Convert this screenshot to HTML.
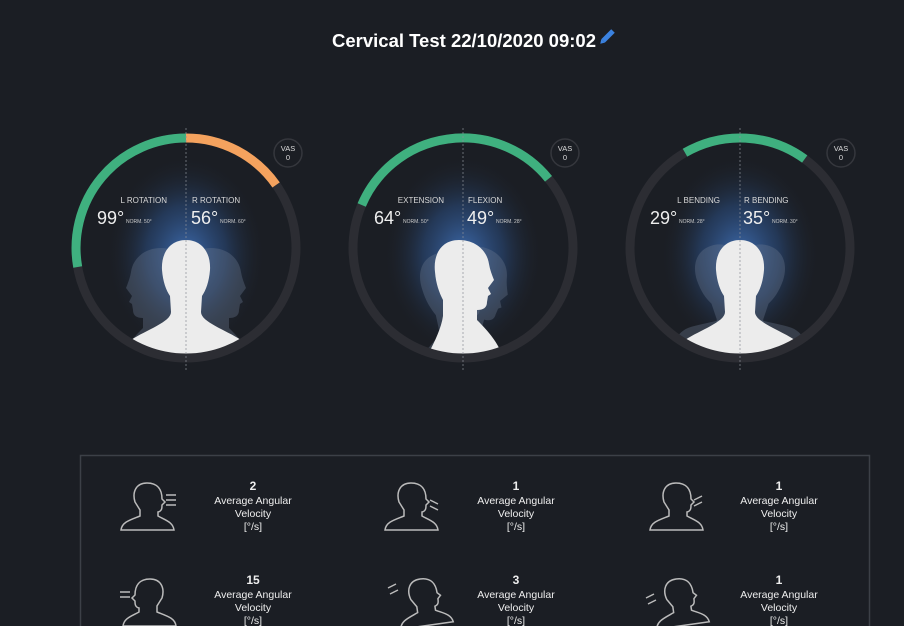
<!DOCTYPE html>
<html><head><meta charset="utf-8"><style>
html,body{margin:0;padding:0;background:#1b1e24;width:904px;height:626px;overflow:hidden;font-family:"Liberation Sans",sans-serif;}
svg text{font-family:"Liberation Sans",sans-serif;}
</style></head><body>
<svg width="904" height="626" viewBox="0 0 904 626" xmlns="http://www.w3.org/2000/svg">
<defs>
<radialGradient id="glow" cx="0.5" cy="0.5" r="0.5">
<stop offset="0" stop-color="#3f6fb5" stop-opacity="0.95"/>
<stop offset="0.5" stop-color="#2a4a7a" stop-opacity="0.6"/>
<stop offset="1" stop-color="#1b1e24" stop-opacity="0"/>
</radialGradient>
<clipPath id="c1"><circle cx="186" cy="248" r="106"/></clipPath>
<clipPath id="c2"><circle cx="463" cy="248" r="106"/></clipPath>
<clipPath id="c3"><circle cx="740" cy="248" r="106"/></clipPath>
<g id="front">
<path d="M0,-10 C-16,-10 -25,3 -24,20 C-23,32 -20,40 -16,46 L-15,62 C-15,72 -40,80 -55,90 C-62,95 -64,102 -66,110 L66,110 C64,102 62,95 55,90 C40,80 15,72 15,62 L16,46 C20,40 23,32 24,20 C25,3 16,-10 0,-10Z"/>
</g>
<g id="side">
<path d="M-4,-10 C-22,-10 -30,5 -28,22 C-27,34 -24,42 -20,50 L-20,66 C-22,80 -30,95 -38,110 L40,110 C38,95 24,80 14,70 L14,60 C20,60 24,58 24,52 L25,46 L28,44 L25,38 L31,30 C29,25 27,20 26,14 C24,0 12,-10 -4,-10Z"/>
</g>
<g id="ic">
<path d="M0,0 C-11,0 -15,9 -12,19 L-7,27 L-7,33 C-17,37 -25,39 -26,47 L27,47 C26,39 18,37 11,33 L11,29 C15,28 15,25 15,22 L18,19 L15,16 C15,7 11,0 0,0Z"/>
</g>
</defs>
<text x="464" y="47" fill="#fff" font-size="18.5" font-weight="bold" text-anchor="middle">Cervical Test 22/10/2020 09:02</text>
<g transform="translate(613,31) rotate(45)"><rect x="-2.5" y="0" width="5" height="14" fill="#3b82e0"/><polygon points="-2.5,14 2.5,14 0,18" fill="#3b82e0"/></g>

<!-- circle 1 -->
<g clip-path="url(#c1)"><ellipse cx="186" cy="255" rx="80" ry="100" fill="url(#glow)"/>
<g fill="#6d7b92" opacity="0.35" transform="translate(215,258)"><use href="#side"/></g>
<g fill="#6d7b92" opacity="0.35" transform="translate(157,258) scale(-1,1)"><use href="#side"/></g>
<g fill="#ececec" transform="translate(186,250)"><use href="#front"/></g></g>
<circle cx="186" cy="248" r="110" fill="none" stroke="#2c2d33" stroke-width="9"/>
<path d="M77.7 267 A110 110 0 0 1 186 138" fill="none" stroke="#3fb07f" stroke-width="9"/>
<path d="M186 138 A110 110 0 0 1 276.1 184.9" fill="none" stroke="#f4a25e" stroke-width="9"/>
<line x1="186" y1="128" x2="186" y2="370" stroke="#8a8f98" stroke-width="1" stroke-dasharray="2,2" opacity="0.7"/>
<text x="167" y="203" fill="#d8d8d8" font-size="8" text-anchor="end">L ROTATION</text>
<text x="192" y="203" fill="#d8d8d8" font-size="8">R ROTATION</text>
<text x="97" y="224" fill="#eee" font-size="18">99°</text><text x="126" y="223" fill="#ccc" font-size="5">NORM. 50°</text>
<text x="191" y="224" fill="#eee" font-size="18">56°</text><text x="220" y="223" fill="#ccc" font-size="5">NORM. 60°</text>
<circle cx="288" cy="153" r="14" fill="#1b1e24" stroke="#35373d" stroke-width="1.5"/>
<text x="288" y="151" fill="#ddd" font-size="7.5" text-anchor="middle">VAS</text><text x="288" y="160" fill="#ddd" font-size="7.5" text-anchor="middle">0</text>

<!-- circle 2 -->
<g clip-path="url(#c2)"><ellipse cx="463" cy="255" rx="80" ry="100" fill="url(#glow)"/>
<g fill="#6d7b92" opacity="0.35" transform="translate(445,262) rotate(-12)"><use href="#side"/></g>
<g fill="#6d7b92" opacity="0.35" transform="translate(485,258) rotate(14)"><use href="#side"/></g>
<g fill="#ececec" transform="translate(463,250)"><use href="#side"/></g></g>
<circle cx="463" cy="248" r="110" fill="none" stroke="#2c2d33" stroke-width="9"/>
<path d="M361.7 205 A110 110 0 0 1 548.5 178.8" fill="none" stroke="#3fb07f" stroke-width="9"/>
<line x1="463" y1="128" x2="463" y2="370" stroke="#8a8f98" stroke-width="1" stroke-dasharray="2,2" opacity="0.7"/>
<text x="444" y="203" fill="#d8d8d8" font-size="8" text-anchor="end">EXTENSION</text>
<text x="468" y="203" fill="#d8d8d8" font-size="8">FLEXION</text>
<text x="374" y="224" fill="#eee" font-size="18">64°</text><text x="403" y="223" fill="#ccc" font-size="5">NORM. 50°</text>
<text x="467" y="224" fill="#eee" font-size="18">49°</text><text x="496" y="223" fill="#ccc" font-size="5">NORM. 28°</text>
<circle cx="565" cy="153" r="14" fill="#1b1e24" stroke="#35373d" stroke-width="1.5"/>
<text x="565" y="151" fill="#ddd" font-size="7.5" text-anchor="middle">VAS</text><text x="565" y="160" fill="#ddd" font-size="7.5" text-anchor="middle">0</text>

<!-- circle 3 -->
<g clip-path="url(#c3)"><ellipse cx="740" cy="255" rx="80" ry="100" fill="url(#glow)"/>
<g fill="#6d7b92" opacity="0.35" transform="translate(715,255) rotate(-15)"><use href="#front"/></g>
<g fill="#6d7b92" opacity="0.35" transform="translate(765,255) rotate(15)"><use href="#front"/></g>
<g fill="#ececec" transform="translate(740,250)"><use href="#front"/></g></g>
<circle cx="740" cy="248" r="110" fill="none" stroke="#2c2d33" stroke-width="9"/>
<path d="M685 152.7 A110 110 0 0 1 804.7 159" fill="none" stroke="#3fb07f" stroke-width="9"/>
<line x1="740" y1="128" x2="740" y2="370" stroke="#8a8f98" stroke-width="1" stroke-dasharray="2,2" opacity="0.7"/>
<text x="720" y="203" fill="#d8d8d8" font-size="8" text-anchor="end">L BENDING</text>
<text x="744" y="203" fill="#d8d8d8" font-size="8">R BENDING</text>
<text x="650" y="224" fill="#eee" font-size="18">29°</text><text x="679" y="223" fill="#ccc" font-size="5">NORM. 28°</text>
<text x="743" y="224" fill="#eee" font-size="18">35°</text><text x="772" y="223" fill="#ccc" font-size="5">NORM. 30°</text>
<circle cx="841" cy="153" r="14" fill="#1b1e24" stroke="#35373d" stroke-width="1.5"/>
<text x="841" y="151" fill="#ddd" font-size="7.5" text-anchor="middle">VAS</text><text x="841" y="160" fill="#ddd" font-size="7.5" text-anchor="middle">0</text>

<!-- box -->
<rect x="80.5" y="455.5" width="789" height="180" fill="none" stroke="#3c4047" stroke-width="1.5"/>
<g fill="none" stroke="#bbb" stroke-width="1.5">
<g transform="translate(147,483)"><use href="#ic"/></g>
<path d="M166 495 h10 M166 500 h10 M166 505 h10"/>
<g transform="translate(411,483)"><use href="#ic"/></g>
<path d="M430 500 l8 4 M430 506 l8 4"/>
<g transform="translate(676,483)"><use href="#ic"/></g>
<path d="M694 500 l8 -4 M694 506 l8 -4"/>
<g transform="translate(150,579) scale(-1,1)"><use href="#ic"/></g>
<path d="M120 592 h10 M120 597 h10"/>
<g transform="translate(420,579) rotate(-8)"><use href="#ic"/></g>
<path d="M388 588 l8 -4 M390 594 l8 -4"/>
<g transform="translate(676,579) rotate(-8)"><use href="#ic"/></g>
<path d="M646 598 l8 -4 M648 604 l8 -4"/>
</g>
<g fill="#eee" font-size="10.5" text-anchor="middle">
<text x="253" y="490" font-weight="bold" font-size="12">2</text><text x="253" y="504">Average Angular</text><text x="253" y="517">Velocity</text><text x="253" y="530">[°/s]</text>
<text x="516" y="490" font-weight="bold" font-size="12">1</text><text x="516" y="504">Average Angular</text><text x="516" y="517">Velocity</text><text x="516" y="530">[°/s]</text>
<text x="779" y="490" font-weight="bold" font-size="12">1</text><text x="779" y="504">Average Angular</text><text x="779" y="517">Velocity</text><text x="779" y="530">[°/s]</text>
<text x="253" y="584" font-weight="bold" font-size="12">15</text><text x="253" y="598">Average Angular</text><text x="253" y="611">Velocity</text><text x="253" y="624">[°/s]</text>
<text x="516" y="584" font-weight="bold" font-size="12">3</text><text x="516" y="598">Average Angular</text><text x="516" y="611">Velocity</text><text x="516" y="624">[°/s]</text>
<text x="779" y="584" font-weight="bold" font-size="12">1</text><text x="779" y="598">Average Angular</text><text x="779" y="611">Velocity</text><text x="779" y="624">[°/s]</text>
</g>
</svg>
</body></html>
